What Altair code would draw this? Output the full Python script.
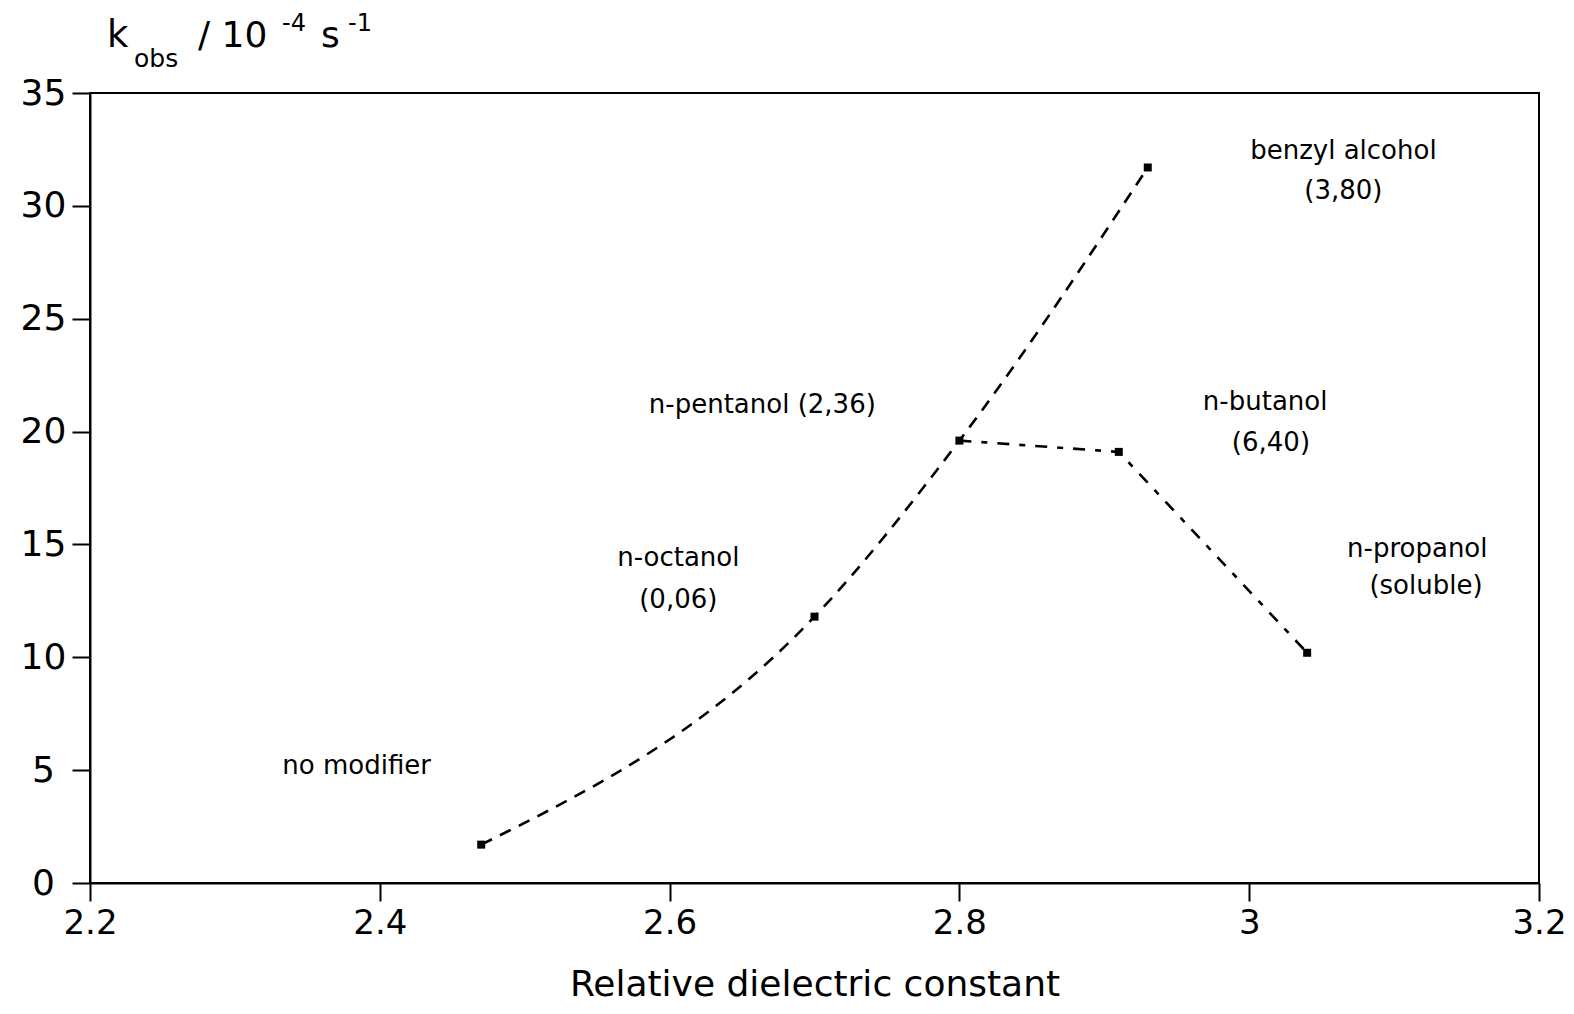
import altair as alt
import pandas as pd

# ---- data ----
eps = [2.47, 2.70, 2.80, 2.93, 2.91, 3.04]          # relative dielectric constant
kobs = [1.7, 11.8, 19.6, 31.7, 19.1, 10.2]          # k_obs / 1e-4 s^-1
curve_idx = [0, 1, 2, 3]                             # smooth dashed curve
branch_idx = [2, 4, 5]                               # dashed branch

label_text = ["benzyl alcohol", "(3,80)", "n-pentanol (2,36)", "n-butanol", "(6,40)",
              "n-octanol", "(0,06)", "n-propanol", "(soluble)", "no modifier"]
label_x = [3.065, 3.065, 2.664, 3.011, 3.015, 2.606, 2.606, 3.116, 3.122, 2.384]
label_y = [32.45, 30.67, 21.16, 21.29, 19.51, 14.40, 12.54, 14.80, 13.16, 5.18]

x_ticks = [2.2, 2.4, 2.6, 2.8, 3.0, 3.2]
y_ticks = [0, 5, 10, 15, 20, 25, 30, 35]

FONT = "DejaVu Sans"

pts = pd.DataFrame({"eps": eps, "k": kobs})
curve_df = pts.iloc[curve_idx].reset_index(drop=True)
branch_df = pts.iloc[branch_idx].reset_index(drop=True)
lab_df = pd.DataFrame({"t": label_text, "x": label_x, "y": label_y})

x_scale = alt.Scale(domain=[2.2, 3.2], nice=False, zero=False)
y_scale = alt.Scale(domain=[0, 35], nice=False, zero=False)

x_axis = alt.Axis(values=x_ticks, format=".1~f", grid=False, tickSize=18, tickWidth=2,
                  tickColor="black", domainColor="black", domainWidth=2,
                  labelFont=FONT, labelFontSize=34, labelColor="black", labelPadding=5,
                  labelFlush=False, title="Relative dielectric constant", titleFont=FONT,
                  titleFontSize=36, titleFontWeight="normal", titleColor="black",
                  titlePadding=27)
y_axis = alt.Axis(values=y_ticks, grid=False, tickSize=18, tickWidth=2, tickColor="black",
                  domainColor="black", domainWidth=2, labelFont=FONT, labelFontSize=36,
                  labelColor="black", labelAlign="center", labelPadding=29, labelFlush=False)

X = alt.X("eps:Q", scale=x_scale, axis=x_axis)
Y = alt.Y("k:Q", scale=y_scale, axis=y_axis, title=None)

curve = alt.Chart(curve_df).mark_line(
    interpolate="monotone", strokeDash=[12, 9], strokeWidth=2.6, color="black"
).encode(x=X, y=Y)

branch = alt.Chart(branch_df).mark_line(
    strokeDash=[12, 10, 6, 10], strokeWidth=2.6, color="black"
).encode(x=X, y=Y)

markers = alt.Chart(pts).mark_square(size=64, color="black", opacity=1).encode(x=X, y=Y)

labels = alt.Chart(lab_df).mark_text(
    font=FONT, fontSize=26, color="black", align="center", baseline="middle"
).encode(x=alt.X("x:Q", scale=x_scale), y=alt.Y("y:Q", scale=y_scale), text="t:N")

# y-axis title pieces: k_obs / 10^-4 s^-1
def piece(txt, px, py, size):
    return alt.Chart(alt.Data(values=[{}])).mark_text(
        text=txt, font=FONT, fontSize=size, color="black", align="left", baseline="alphabetic"
    ).encode(x=alt.value(px), y=alt.value(py))

title_parts = [
    piece("k", 17, -46, 37),
    piece("obs", 44, -26, 25),
    piece("/ 10", 108, -46, 36),
    piece("-4", 192, -62, 24),
    piece("s", 231, -46, 36),
    piece("-1", 258, -62, 24),
]

chart = alt.layer(curve, branch, markers, labels, *title_parts).properties(
    width=1449, height=790,
    autosize=alt.AutoSizeParams(type="none"),
    padding={"left": 82, "top": 85, "right": 27, "bottom": 120},
    background="white",
).configure_view(stroke="black", strokeWidth=2)

chart.save("out.html", embed_options={"renderer": "svg", "actions": False})
